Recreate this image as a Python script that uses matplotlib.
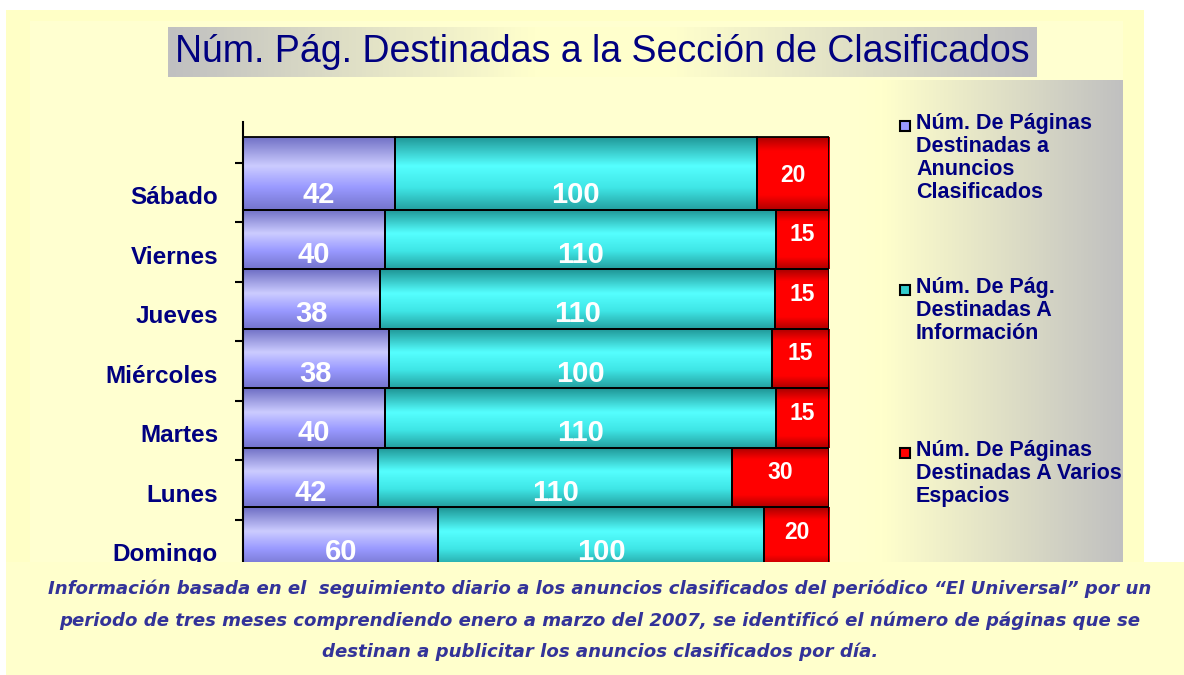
import numpy as np
import matplotlib
matplotlib.use('Agg')
import matplotlib.pyplot as plt
from matplotlib.colors import LinearSegmentedColormap
from matplotlib.patches import Rectangle

plt.rcParams['font.family'] = ['Liberation Sans', 'DejaVu Sans']

# datos (de arriba hacia abajo)
dias = ['Sábado', 'Viernes', 'Jueves', 'Miércoles', 'Martes', 'Lunes', 'Domingo']
anuncios = [42, 40, 38, 38, 40, 42, 60]
informacion = [100, 110, 110, 100, 110, 110, 100]
varios = [20, 15, 15, 15, 15, 30, 20]
series_names = ['Núm. De Páginas\nDestinadas a\nAnuncios\nClasificados',
                'Núm. De Pág.\nDestinadas A\nInformación',
                'Núm. De Páginas\nDestinadas A Varios\nEspacios']
titulo = 'Núm. Pág. Destinadas a la Sección de Clasificados'
nota = ['Información basada en el  seguimiento diario a los anuncios clasificados del periódico “El Universal” por un',
        'periodo de tres meses comprendiendo enero a marzo del 2007, se identificó el número de páginas que se',
        'destinan a publicitar los anuncios clasificados por día.']

NAVY = '#000080'
W, H = 1184, 675
colores = ['#9999FF', '#33CCCC', '#FF0000']
cmaps = [
    LinearSegmentedColormap.from_list('p', [(0, '#7474CC'), (0.3, '#9999FF'), (0.6, '#CCCCFF'), (1, '#6E6EC4')]),
    LinearSegmentedColormap.from_list('t', [(0, '#24A0A0'), (0.3, '#3FE6E6'), (0.6, '#55FFFF'), (1, '#1E9494')]),
    LinearSegmentedColormap.from_list('r', [(0, '#B00000'), (0.2, '#FF0000'), (0.8, '#FF0000'), (1, '#A80000')]),
]

fig = plt.figure(figsize=(W / 100, H / 100), dpi=100, facecolor='white')


def px_axes(x0, y0, x1, y1, **kw):
    # axes desde una caja en pixeles (origen arriba a la izquierda)
    return fig.add_axes([x0 / W, 1 - y1 / H, (x1 - x0) / W, (y1 - y0) / H], **kw)


def shade(ax, bars, cmap):
    grad = np.linspace(0, 1, 128).reshape(-1, 1)
    for b in bars:
        x0, y0 = b.get_x(), b.get_y()
        im = ax.imshow(grad, cmap=cmap, extent=[x0, x0 + b.get_width(), y0, y0 + b.get_height()],
                       origin='lower', aspect='auto', interpolation='bicubic', zorder=1)
        im.set_clip_path(b)


# fondo
bg = px_axes(0, 0, W, H, zorder=0)
bg.add_patch(Rectangle((6, 10), 1138, 552, facecolor='#FFFFC6', edgecolor='none', zorder=1))
bg.add_patch(Rectangle((30, 21), 1093, 541, facecolor='#FFFFD0', edgecolor='none', zorder=1))
tcmap = LinearSegmentedColormap.from_list('tt', [(0, '#C0C0C0'), (0.42, '#FFFFCC'), (0.58, '#FFFFCC'), (1, '#C0C0C0')])
bg.imshow(np.linspace(0, 1, 256).reshape(1, -1), cmap=tcmap, extent=[168, 1037, 77, 27],
          aspect='auto', interpolation='bicubic', zorder=2)
bg.set_xlim(0, W)
bg.set_ylim(H, 0)
bg.axis('off')
bg.text(602, 52, titulo, ha='center', va='center', fontsize=27, color=NAVY, zorder=3)

# leyenda
leg = px_axes(850, 80, 1123, 562, zorder=1)
gcmap = LinearSegmentedColormap.from_list('g', [(0, '#FFFFD0'), (0.12, '#FFFFCC'), (1, '#C0C0C0')])
leg.imshow(np.linspace(0, 1, 256).reshape(1, -1), cmap=gcmap, extent=[850, 1123, 562, 80],
           aspect='auto', interpolation='bicubic', zorder=0)
leg.set_xlim(850, 1123)
leg.set_ylim(562, 80)
leg.axis('off')
for name, c, y in zip(series_names, colores, [121, 285, 448]):
    leg.add_patch(Rectangle((900, y), 10, 10, facecolor=c, edgecolor='black', lw=1.5, zorder=2))
    leg.text(916, y - 8, name, ha='left', va='top', fontsize=15.5, fontweight='bold',
             color=NAVY, linespacing=1.12, clip_on=True, zorder=3)

# grafica
ax = px_axes(243, 122, 829, 562, zorder=2)
ax.set_facecolor('none')
pos = np.arange(len(dias))[::-1].astype(float)
# la barra superior se ve mas alta (efecto 3D del original)
alturas = np.where(pos == pos.max(), 1.23, 1.0)
tot = np.array(anuncios) + np.array(informacion) + np.array(varios)
left = np.zeros(len(dias))
for k, (vals, cmap) in enumerate(zip([anuncios, informacion, varios], cmaps)):
    fr = np.array(vals) / tot
    bars = ax.barh(pos - 0.25, fr, height=alturas, left=left, align='edge', facecolor='none',
                   edgecolor='black', linewidth=1.3, zorder=3)
    shade(ax, bars, cmap)
    for xc, yc, v in zip(left + fr / 2, pos, vals):
        if k < 2:
            ax.text(xc, yc, str(v), ha='center', va='center', fontsize=21,
                    fontweight='bold', color='white', zorder=4, clip_on=True)
        else:
            ax.text(xc, yc + 0.33, str(v), ha='center', va='center', fontsize=16.5,
                    fontweight='bold', color='white', zorder=4, clip_on=True)
    left += fr

ax.set_xlim(0, 1)
ax.set_ylim(-0.168, 7.227)
ax.set_xticks([])
ax.set_yticks(pos, dias)
ax.set_yticks(pos + 0.54, minor=True)
ax.tick_params(axis='y', which='major', length=0, pad=18, labelsize=17.5, labelcolor=NAVY)
ax.tick_params(axis='y', which='minor', length=6, width=1.5, direction='out')
for lbl in ax.get_yticklabels():
    lbl.set_fontweight('bold')
for s in ['top', 'right', 'bottom']:
    ax.spines[s].set_visible(False)
ax.spines['left'].set_linewidth(1.5)

# nota inferior
fg = px_axes(0, 562, W, H, zorder=5)
fg.add_patch(Rectangle((0, 562), 6, 113, facecolor='white', edgecolor='none'))
fg.add_patch(Rectangle((6, 562), 1178, 113, facecolor='#FFFFCC', edgecolor='none'))
fg.set_xlim(0, W)
fg.set_ylim(H, 562)
fg.axis('off')
for line, y in zip(nota, [589, 621, 652]):
    fg.text(600, y, line, ha='center', va='center', fontsize=13.1, fontweight='bold',
            style='italic', family='DejaVu Sans', color='#333399')

fig.savefig('out.png', dpi=100, facecolor='white')
